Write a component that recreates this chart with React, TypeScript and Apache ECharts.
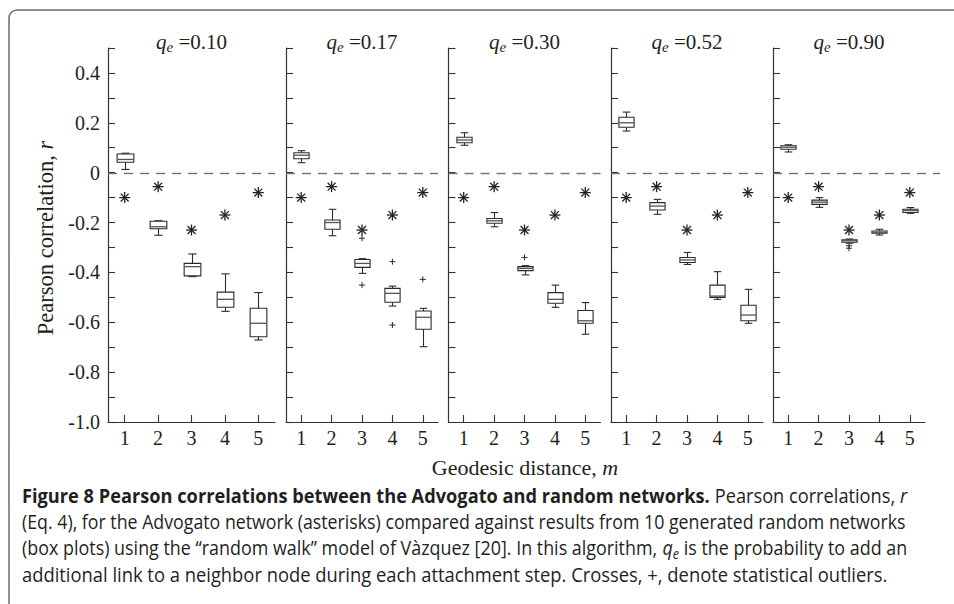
import React, { useEffect, useRef } from 'react';
import * as echarts from 'echarts';

// ---------- data ----------
const distances = ['1', '2', '3', '4', '5'];
const qeValues = ['0.10', '0.17', '0.30', '0.52', '0.90'];

// Advogato network (asterisks), m = 1..5
const advogato = [-0.1, -0.056, -0.23, -0.17, -0.08];

// box plots: [min, q1, median, q3, max] for m = 1..5
const boxesQ010 = [
  [0.013, 0.042, 0.053, 0.075, 0.078],
  [-0.251, -0.225, -0.217, -0.195, -0.193],
  [-0.417, -0.414, -0.377, -0.364, -0.326],
  [-0.556, -0.54, -0.508, -0.479, -0.406],
  [-0.671, -0.658, -0.604, -0.544, -0.481],
];
const boxesQ017 = [
  [0.04, 0.056, 0.07, 0.08, 0.088],
  [-0.253, -0.227, -0.2, -0.19, -0.147],
  [-0.404, -0.38, -0.364, -0.348, -0.345],
  [-0.535, -0.52, -0.484, -0.464, -0.455],
  [-0.698, -0.628, -0.58, -0.555, -0.544],
];
const boxesQ030 = [
  [0.11, 0.12, 0.131, 0.142, 0.16],
  [-0.217, -0.203, -0.193, -0.184, -0.16],
  [-0.41, -0.393, -0.384, -0.377, -0.373],
  [-0.54, -0.524, -0.508, -0.481, -0.451],
  [-0.648, -0.604, -0.594, -0.553, -0.521],
];
const boxesQ052 = [
  [0.167, 0.182, 0.2, 0.222, 0.243],
  [-0.167, -0.15, -0.134, -0.12, -0.107],
  [-0.368, -0.36, -0.35, -0.34, -0.32],
  [-0.508, -0.5, -0.495, -0.451, -0.397],
  [-0.604, -0.594, -0.571, -0.532, -0.468],
];
const boxesQ090 = [
  [0.083, 0.094, 0.102, 0.108, 0.112],
  [-0.139, -0.127, -0.118, -0.11, -0.1],
  [-0.283, -0.279, -0.273, -0.269, -0.266],
  [-0.25, -0.243, -0.239, -0.234, -0.227],
  [-0.163, -0.16, -0.152, -0.147, -0.14],
];

// outliers: [distance index (0-based), value]
const outliersQ010: number[][] = [];
const outliersQ017 = [[2, -0.263], [2, -0.451], [3, -0.357], [3, -0.611], [4, -0.428]];
const outliersQ030 = [[2, -0.34]];
const outliersQ052: number[][] = [];
const outliersQ090 = [[2, -0.293], [2, -0.303]];

// reference line (r = 0)
const zeroLine = [0];

const yTicks = ['0.4', '0.2', '0', '-0.2', '-0.4', '-0.6', '-0.8', '-1.0'];

const allBoxes = [boxesQ010, boxesQ017, boxesQ030, boxesQ052, boxesQ090];
const allOutliers = [outliersQ010, outliersQ017, outliersQ030, outliersQ052, outliersQ090];

// ---------- layout ----------
const gridLefts = [108, 286, 448.5, 611, 773];
const gridWidths = [167, 152, 152, 152, 152];
const gridTop = 48;
const gridHeight = 374;

const INK = '#231f20';
const LINE = '#2b2b2b';
const SERIF = "'Liberation Serif', 'Times New Roman', serif";
const SANS = "'Open Sans', 'Noto Sans', sans-serif";

function measure(text: string, font: string) {
  const ctx = document.createElement('canvas').getContext('2d')!;
  ctx.font = font;
  return ctx.measureText(text).width;
}

const renderBox = (params: any, api: any) => {
  const x = api.value(0);
  const lo = api.coord([x, api.value(1)]);
  const q1 = api.coord([x, api.value(2)]);
  const md = api.coord([x, api.value(3)]);
  const q3 = api.coord([x, api.value(4)]);
  const hi = api.coord([x, api.value(5)]);
  const band = api.size([1, 0])[0];
  const bw = band * 0.5;
  const cw = bw * 0.5;
  const cx = Math.round(lo[0]) + 0.5;
  const st = { stroke: LINE, lineWidth: 1.1, fill: 'none' };
  return {
    type: 'group',
    children: [
      { type: 'line', shape: { x1: cx, y1: q3[1], x2: cx, y2: hi[1] }, style: st },
      { type: 'line', shape: { x1: cx, y1: q1[1], x2: cx, y2: lo[1] }, style: st },
      { type: 'line', shape: { x1: cx - cw / 2, y1: hi[1], x2: cx + cw / 2, y2: hi[1] }, style: st },
      { type: 'line', shape: { x1: cx - cw / 2, y1: lo[1], x2: cx + cw / 2, y2: lo[1] }, style: st },
      {
        type: 'rect',
        shape: { x: cx - bw / 2, y: q3[1], width: bw, height: Math.max(q1[1] - q3[1], 1) },
        style: { stroke: LINE, lineWidth: 1.1, fill: '#fff' },
      },
      { type: 'line', shape: { x1: cx - bw / 2, y1: md[1], x2: cx + bw / 2, y2: md[1] }, style: { stroke: '#555', lineWidth: 1.3 } },
    ],
  };
};

const renderAsterisk = (params: any, api: any) => {
  const p = api.coord([api.value(0), api.value(1)]);
  const r = 5.5;
  const d = r * 0.72;
  const st = { stroke: '#222', lineWidth: 1.3 };
  return {
    type: 'group',
    children: [
      { type: 'line', shape: { x1: p[0] - r, y1: p[1], x2: p[0] + r, y2: p[1] }, style: st },
      { type: 'line', shape: { x1: p[0], y1: p[1] - r, x2: p[0], y2: p[1] + r }, style: st },
      { type: 'line', shape: { x1: p[0] - d, y1: p[1] - d, x2: p[0] + d, y2: p[1] + d }, style: st },
      { type: 'line', shape: { x1: p[0] - d, y1: p[1] + d, x2: p[0] + d, y2: p[1] - d }, style: st },
    ],
  };
};

const renderPlus = (params: any, api: any) => {
  const p = api.coord([api.value(0), api.value(1)]);
  const r = 3;
  const st = { stroke: LINE, lineWidth: 1 };
  return {
    type: 'group',
    children: [
      { type: 'line', shape: { x1: p[0] - r, y1: p[1], x2: p[0] + r, y2: p[1] }, style: st },
      { type: 'line', shape: { x1: p[0], y1: p[1] - r, x2: p[0], y2: p[1] + r }, style: st },
    ],
  };
};

// dashed zero line, drawn as explicit dash segments
const makeZeroRenderer = (isLast: boolean) => (params: any, api: any) => {
  const cs = params.coordSys;
  const y = Math.round(api.coord([0, api.value(0)])[1]) + 0.5;
  const band = api.size([1, 0])[0];
  const x0 = cs.x;
  const x1 = cs.x + cs.width + (isLast ? band * 0.5 : 0);
  const dash = 9;
  const gap = 7;
  const children: any[] = [];
  for (let x = x0; x < x1; x += dash + gap) {
    children.push({
      type: 'line',
      shape: { x1: x, y1: y, x2: Math.min(x + dash, x1), y2: y },
      style: { stroke: '#6f6f6f', lineWidth: 1.4 },
    });
  }
  return { type: 'group', children };
};

function buildOption() {
  const grids: any[] = [];
  const xAxes: any[] = [];
  const yAxes: any[] = [];
  const series: any[] = [];
  const graphics: any[] = [];

  for (let i = 0; i < 5; i++) {
    grids.push({ left: gridLefts[i], top: gridTop, width: gridWidths[i], height: gridHeight, containLabel: false });
    xAxes.push({
      type: 'category',
      gridIndex: i,
      data: distances,
      boundaryGap: true,
      axisLine: { show: true, onZero: false, lineStyle: { color: '#333', width: 1.2 } },
      axisTick: { show: true, inside: true, alignWithLabel: true, length: 7, lineStyle: { color: '#333', width: 1.1 } },
      axisLabel: { show: true, margin: 6, color: INK, fontFamily: SERIF, fontSize: 20 },
      splitLine: { show: false },
    });
    yAxes.push({
      type: 'value',
      gridIndex: i,
      min: -1,
      max: 0.5,
      interval: 0.1,
      axisLine: { show: true, onZero: false, lineStyle: { color: '#333', width: 1.2 } },
      axisTick: { show: true, inside: true, length: 7, lineStyle: { color: '#333', width: 1.1 } },
      axisLabel: {
        show: i === 0,
        margin: 8,
        color: INK,
        fontFamily: SERIF,
        fontSize: 20,
        formatter: (v: number) => {
          const k = Math.round(v * 10);
          const idx = yTicks.findIndex((t) => Math.round(parseFloat(t) * 10) === k);
          return idx >= 0 ? yTicks[idx] : '';
        },
      },
      splitLine: { show: false },
    });

    series.push({
      type: 'custom',
      name: 'zero',
      xAxisIndex: i,
      yAxisIndex: i,
      renderItem: makeZeroRenderer(i === 4),
      data: zeroLine.map((v) => [v]),
      encode: { y: 0 },
      clip: false,
      silent: true,
      z: 1,
    });
    series.push({
      type: 'custom',
      name: 'random networks',
      xAxisIndex: i,
      yAxisIndex: i,
      renderItem: renderBox,
      encode: { x: 0, y: [1, 2, 3, 4, 5] },
      data: allBoxes[i].map((b, j) => [j, ...b]),
      z: 3,
    });
    series.push({
      type: 'custom',
      name: 'outliers',
      xAxisIndex: i,
      yAxisIndex: i,
      renderItem: renderPlus,
      encode: { x: 0, y: 1 },
      data: allOutliers[i],
      z: 4,
    });
    series.push({
      type: 'custom',
      name: 'Advogato',
      xAxisIndex: i,
      yAxisIndex: i,
      renderItem: renderAsterisk,
      encode: { x: 0, y: 1 },
      data: advogato.map((v, j) => [j, v]),
      z: 4,
    });

    graphics.push({
      type: 'text',
      x: gridLefts[i] + gridWidths[i] / 2,
      y: 42,
      style: {
        text: `{q|q}{e|e}{n| =${qeValues[i]}}`,
        align: 'center',
        verticalAlign: 'middle',
        textAlign: 'center',
        textVerticalAlign: 'middle',
        fill: INK,
        rich: {
          q: { fontFamily: SERIF, fontStyle: 'italic', fontSize: 21, lineHeight: 24, fill: INK, color: INK },
          e: { fontFamily: SERIF, fontStyle: 'italic', fontSize: 15, lineHeight: 11, verticalAlign: 'bottom', fill: INK, color: INK },
          n: { fontFamily: SERIF, fontSize: 21, lineHeight: 24, fill: INK, color: INK },
        },
      },
    });
  }

  // frame
  graphics.push({
    type: 'rect',
    shape: { x: 9, y: 10, width: 1000, height: 700, r: 8 },
    style: { fill: 'none', stroke: '#6a6a6a', lineWidth: 1.5 },
    z: -1,
  });

  // y axis title
  graphics.push({
    type: 'text',
    x: 45,
    y: 238,
    rotation: Math.PI / 2,
    style: {
      text: '{n|Pearson correlation, }{i|r}',
      align: 'center',
      verticalAlign: 'middle',
      textAlign: 'center',
      textVerticalAlign: 'middle',
      fill: INK,
      rich: {
        n: { fontFamily: SERIF, fontSize: 22.5, fill: INK, color: INK },
        i: { fontFamily: SERIF, fontSize: 22.5, fontStyle: 'italic', fill: INK, color: INK },
      },
    },
  });

  // x axis title
  graphics.push({
    type: 'text',
    x: 525,
    y: 467,
    style: {
      text: '{n|Geodesic distance, }{i|m}',
      align: 'center',
      verticalAlign: 'middle',
      textAlign: 'center',
      textVerticalAlign: 'middle',
      fill: INK,
      rich: {
        n: { fontFamily: SERIF, fontSize: 22, fill: INK, color: INK },
        i: { fontFamily: SERIF, fontSize: 22, fontStyle: 'italic', fill: INK, color: INK },
      },
    },
  });

  // caption
  const FS = 20;
  const fN = `${FS}px ${SANS}`;
  const fB = `bold ${FS}px ${SANS}`;
  const fI = `italic ${FS}px ${SANS}`;
  const fS = `italic ${Math.round(FS * 0.72)}px ${SANS}`;
  const capRich = {
    b: { fontFamily: SANS, fontSize: FS, fontWeight: 'bold', fill: INK, color: INK, lineHeight: 26 },
    n: { fontFamily: SANS, fontSize: FS, fill: INK, color: INK, lineHeight: 26 },
    i: { fontFamily: SANS, fontSize: FS, fontStyle: 'italic', fill: INK, color: INK, lineHeight: 26 },
    s: { fontFamily: SANS, fontSize: Math.round(FS * 0.72), fontStyle: 'italic', fill: INK, color: INK, lineHeight: 20, verticalAlign: 'bottom' },
  };
  const captionLines: { parts: [string, string][]; width: number; y: number }[] = [
    {
      parts: [
        ['b', 'Figure 8 Pearson correlations between the Advogato and random networks.'],
        ['n', ' Pearson correlations, '],
        ['i', 'r'],
      ],
      width: 885,
      y: 496,
    },
    {
      parts: [['n', '(Eq. 4), for the Advogato network (asterisks) compared against results from 10 generated random networks']],
      width: 884,
      y: 522,
    },
    {
      parts: [
        ['n', '(box plots) using the \u201crandom walk\u201d model of V\u00e0zquez [20]. In this algorithm, '],
        ['i', 'q'],
        ['s', 'e'],
        ['n', ' is the probability to add an'],
      ],
      width: 885,
      y: 548,
    },
    {
      parts: [['n', 'additional link to a neighbor node during each attachment step. Crosses, +, denote statistical outliers.']],
      width: 866,
      y: 574,
    },
  ];
  const fonts: Record<string, string> = { b: fB, n: fN, i: fI, s: fS };
  captionLines.forEach((ln) => {
    const w = ln.parts.reduce((acc, [k, t]) => acc + measure(t, fonts[k]), 0);
    const sx = w > 0 ? ln.width / w : 1;
    graphics.push({
      type: 'text',
      x: 22,
      y: ln.y,
      scaleX: sx,
      style: {
        text: ln.parts.map(([k, t]) => `{${k}|${t}}`).join(''),
        align: 'left',
        verticalAlign: 'middle',
        textAlign: 'left',
        textVerticalAlign: 'middle',
        fill: INK,
        rich: capRich,
      },
    });
  });

  return {
    animation: false,
    backgroundColor: '#ffffff',
    grid: grids,
    xAxis: xAxes,
    yAxis: yAxes,
    series,
    graphic: graphics,
  };
}

export default function App() {
  const ref = useRef<HTMLDivElement>(null);
  useEffect(() => {
    if (!ref.current) return;
    const chart = echarts.init(ref.current, undefined, { renderer: 'svg' });
    chart.setOption(buildOption() as any);
    return () => chart.dispose();
  }, []);
  return (
    <div
      ref={ref}
      style={{ position: 'absolute', left: 0, top: 0, width: 954, height: 604, background: '#fff' }}
    />
  );
}
